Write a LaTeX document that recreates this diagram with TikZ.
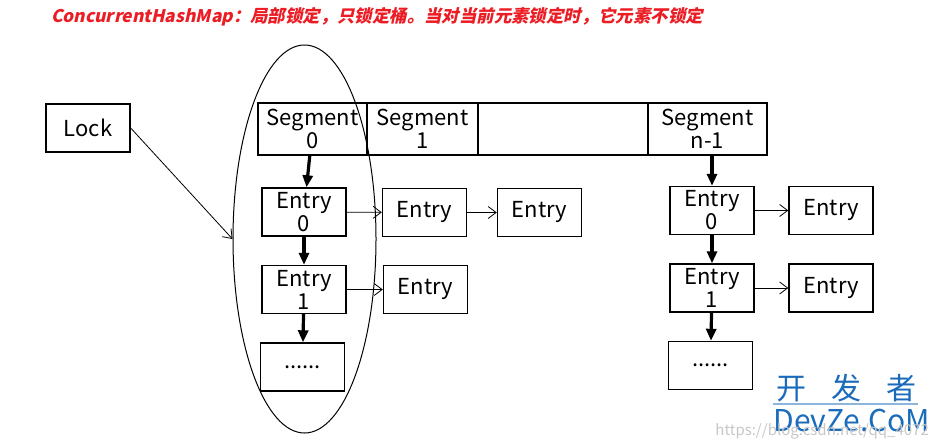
\documentclass[tikz,border=0pt]{standalone}
\usepackage{fontspec}
\setmainfont{Noto Sans CJK SC}
\newfontfamily\cjk[FakeSlant=0.22,BoldFeatures={FakeSlant=0.22}]{Noto Sans CJK SC}
\usetikzlibrary{arrows.meta,shapes.geometric}
\definecolor{titlered}{RGB}{236,28,36}
\definecolor{markblue}{RGB}{26,108,186}
\tikzset{
  box/.style={draw,line width=0.7pt,minimum width=42pt,minimum height=24pt,
    inner sep=0.5pt,align=center,font=\fontsize{11}{11.5}\selectfont},
  segbox/.style={box,minimum height=26pt},
  chain/.style={line width=1.6pt,-{Triangle[length=6pt,width=5pt]}},
  link/.style={line width=0.4pt,-{Straight Barb[length=4pt,width=6pt]}}
}

\begin{document}
\begin{tikzpicture}[x=0.5pt,y=-0.5pt]
  \useasboundingbox (0,0) rectangle (929,439);

  \node[anchor=west,text=titlered,font=\cjk\bfseries\fontsize{8.7}{9}\selectfont]
    (title) at (44,17) {ConcurrentHashMap：局部锁定，只锁定桶。当对当前元素锁定时，它元素不锁定};

  \node[box] (lock) at (88,128) {Lock};

  % segments
  \node[segbox,minimum width=54.5pt] (seg0) at (312.5,129) {Segment\\0};
  \node[segbox,minimum width=55.5pt] (seg1) at (422.5,129) {Segment\\1};
  \node[segbox,minimum width=85pt]   (segx) at (563,129) {};
  \node[segbox,minimum width=59.5pt] (segn) at (707.5,129) {Segment\\n-1};

  % entries of segment 0
  \node[box] (a0) at (304,212)     {Entry\\0};
  \node[box] (a1) at (304,289.5)   {Entry\\1};
  \node[box] (a2) at (302.5,367)   {......};
  \node[box] (b0) at (424.5,212.5) {Entry};
  \node[box] (c0) at (539.5,212.5) {Entry};
  \node[box] (b1) at (425.5,289.5) {Entry};

  % entries of segment n-1
  \node[box] (p0) at (712,210.5)   {Entry\\0};
  \node[box] (p1) at (712,288)     {Entry\\1};
  \node[box] (p2) at (710.5,365.5) {......};
  \node[box] (q0) at (831,210.5)   {Entry};
  \node[box] (q1) at (831,288)     {Entry};

  \node[draw,ellipse,line width=0.5pt,minimum width=71.5pt,minimum height=194pt]
    (ring) at (304.5,239) {};

  \draw[chain] (seg0) -- (a0);
  \draw[chain] (a0) -- (a1);
  \draw[chain] (a1) -- (a2);
  \draw[chain] (segn.south -| p0) -- (p0);
  \draw[chain] (p0) -- (p1);
  \draw[chain] (p1) -- (p2);

  \draw[link] (a0) -- (b0);
  \draw[link] (b0) -- (c0);
  \draw[link] (a1) -- (b1);
  \draw[link] (p0) -- (q0);
  \draw[link] (p1) -- (q1);
  \draw[link] (lock.east) -- (ring.west);

  % watermark
  \node[anchor=west,text=markblue,font=\fontsize{15}{15}\selectfont]
    (mark) at (769,388) {开\hspace{12.5pt}发\hspace{12.5pt}者};
  \draw[markblue!50,line width=0.6pt] (773,404) -- (918,404);
  \node[anchor=west,text=markblue,font=\fontsize{15}{15}\selectfont,inner sep=0pt]
    (site) at (773,420) {DevZe.CoM};
  \node[anchor=west,text=black!22,font=\fontsize{7.5}{8}\selectfont,inner sep=0pt]
    (url) at (715,431) {https://blog.csdn.net/qq\_4072};
\end{tikzpicture}
\end{document}
